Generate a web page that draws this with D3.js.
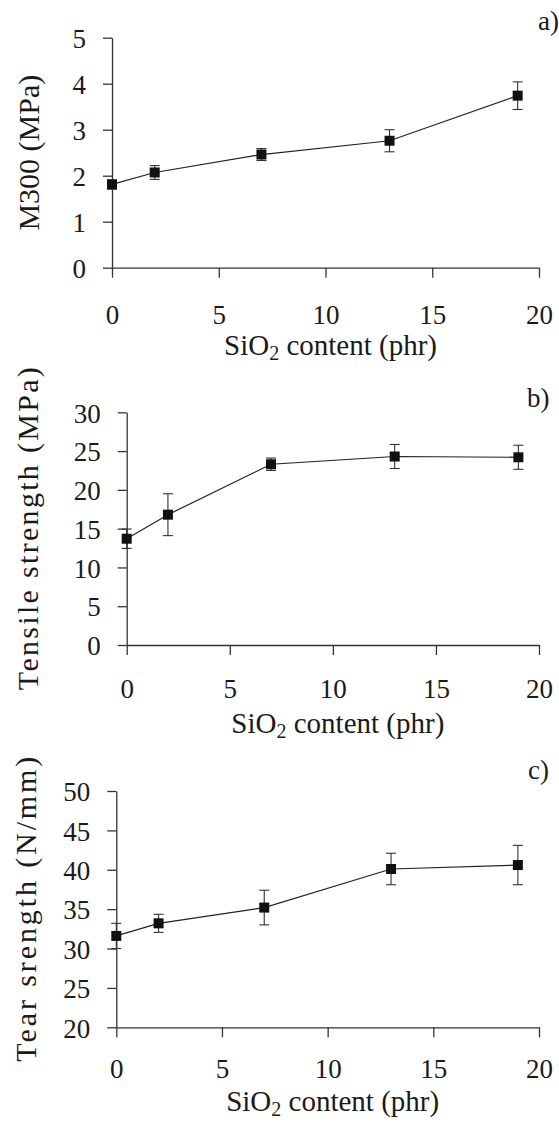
<!DOCTYPE html>
<html>
<head>
<meta charset="utf-8">
<script src="https://cdn.jsdelivr.net/npm/d3@7"></script>
<style>
  body { margin: 0; background: #fff; }
</style>
</head>
<body>
<div id="chart"></div>
<script>
// data
var silica = [0, 2, 7, 13, 19];
var m300 = [1.81, 2.07, 2.46, 2.76, 3.74];
var m300Err = [0.10, 0.15, 0.13, 0.24, 0.30];
var tensile = [13.7, 16.8, 23.3, 24.3, 24.2];
var tensileErr = [1.25, 2.7, 0.8, 1.55, 1.55];
var tear = [31.6, 33.2, 35.2, 40.1, 40.6];
var tearErr = [1.6, 1.15, 2.2, 2.0, 2.5];

var xTicks = [0, 5, 10, 15, 20];
var m300Ticks = [0, 1, 2, 3, 4, 5];
var tensileTicks = [0, 5, 10, 15, 20, 25, 30];
var tearTicks = [20, 25, 30, 35, 40, 45, 50];

var serif = "Liberation Serif";
var ink = "#1a1a1a";

// layout of the three stacked panels
var panels = [
  {tag: "a)", yTitle: "M300 (MPa)", vals: m300, errs: m300Err, ticks: m300Ticks,
   left: 112, right: 539, top: 37.7, bottom: 267.7, titleLen: null, pad: 27,
   tagX: 538, tagY: 30, yTitleX: 39, xTitleY: 355},
  {tag: "b)", yTitle: "Tensile strength (MPa)", vals: tensile, errs: tensileErr, ticks: tensileTicks,
   left: 126.7, right: 539, top: 412.3, bottom: 645, titleLen: 323, pad: 24,
   tagX: 527, tagY: 407, yTitleX: 38, xTitleY: 733},
  {tag: "c)", yTitle: "Tear srength (N/mm)", vals: tear, errs: tearErr, ticks: tearTicks,
   left: 116.3, right: 539, top: 791, bottom: 1027.3, titleLen: 305, pad: 22,
   tagX: 528, tagY: 779, yTitleX: 36, xTitleY: 1111}
];

var svg = d3.select("#chart").append("svg")
  .attr("width", 559)
  .attr("height", 1122)
  .attr("font-family", serif);

panels.forEach(function(p) {
  var x = d3.scaleLinear().domain([0, 20]).range([p.left, p.right]);
  var y = d3.scaleLinear().domain(d3.extent(p.ticks)).range([p.bottom, p.top]);

  var g = svg.append("g");

  // x axis
  var xa = g.append("g")
    .attr("transform", "translate(0," + p.bottom + ")")
    .call(d3.axisBottom(x).tickValues(xTicks).tickFormat(d3.format("d"))
      .tickSize(10).tickSizeOuter(0).tickPadding(p.pad));
  // y axis
  var ya = g.append("g")
    .attr("transform", "translate(" + p.left + ",0)")
    .call(d3.axisLeft(y).tickValues(p.ticks).tickFormat(d3.format("d"))
      .tickSize(9).tickSizeOuter(0).tickPadding(17));

  [xa, ya].forEach(function(a) {
    a.attr("font-family", serif).attr("font-size", 27);
    a.select(".domain").attr("stroke", "#333").attr("stroke-width", 1.3);
    a.selectAll(".tick line").attr("stroke", "#333").attr("stroke-width", 1.3);
    a.selectAll(".tick text").attr("fill", ink).attr("font-family", serif);
  });
  xa.selectAll(".tick text").attr("dy", "0.71em");
  ya.selectAll(".tick text").attr("dy", "0.36em");

  // connecting line
  var pts = silica.map(function(s, i) { return {x: s, v: p.vals[i], e: p.errs[i]}; });
  g.append("path")
    .datum(pts)
    .attr("fill", "none")
    .attr("stroke", "#222")
    .attr("stroke-width", 1.2)
    .attr("d", d3.line().x(function(d) { return x(d.x); }).y(function(d) { return y(d.v); }));

  // error bars
  var eb = g.selectAll(".err").data(pts).enter().append("g").attr("class", "err")
    .attr("stroke", "#333").attr("stroke-width", 1.1);
  eb.append("line")
    .attr("x1", function(d) { return x(d.x); })
    .attr("x2", function(d) { return x(d.x); })
    .attr("y1", function(d) { return y(d.v + d.e); })
    .attr("y2", function(d) { return y(d.v - d.e); });
  eb.append("line")
    .attr("x1", function(d) { return x(d.x) - 5; })
    .attr("x2", function(d) { return x(d.x) + 5; })
    .attr("y1", function(d) { return y(d.v + d.e); })
    .attr("y2", function(d) { return y(d.v + d.e); });
  eb.append("line")
    .attr("x1", function(d) { return x(d.x) - 5; })
    .attr("x2", function(d) { return x(d.x) + 5; })
    .attr("y1", function(d) { return y(d.v - d.e); })
    .attr("y2", function(d) { return y(d.v - d.e); });

  // square markers
  g.selectAll(".pt").data(pts).enter().append("rect")
    .attr("x", function(d) { return x(d.x) - 5; })
    .attr("y", function(d) { return y(d.v) - 5; })
    .attr("width", 10)
    .attr("height", 10)
    .attr("fill", "#111");

  // y title
  var yt = g.append("text")
    .attr("transform", "translate(" + p.yTitleX + "," + ((p.top + p.bottom) / 2) + ") rotate(-90)")
    .attr("text-anchor", "middle")
    .attr("font-family", serif)
    .attr("font-size", 30)
    .attr("fill", ink)
    .text(p.yTitle);
  if (p.titleLen) yt.attr("textLength", p.titleLen).attr("lengthAdjust", "spacing");

  // x title with subscript
  var xt = g.append("text")
    .attr("x", (p.left + p.right) / 2 + 5)
    .attr("y", p.xTitleY)
    .attr("text-anchor", "middle")
    .attr("font-family", serif)
    .attr("font-size", 29)
    .attr("fill", ink);
  xt.append("tspan").text("SiO");
  xt.append("tspan").attr("dy", 5).attr("font-size", 20).text("2");
  xt.append("tspan").attr("dy", -5).text(" content (phr)");

  // panel tag
  g.append("text")
    .attr("x", p.tagX)
    .attr("y", p.tagY)
    .attr("font-family", serif)
    .attr("font-size", 27)
    .attr("fill", ink)
    .text(p.tag);
});
</script>
</body>
</html>
